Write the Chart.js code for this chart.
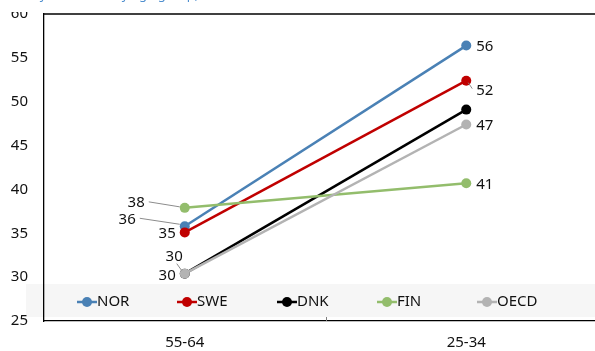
<!DOCTYPE html>
<html>
<head>
<meta charset="utf-8">
<script src="https://cdn.jsdelivr.net/npm/chart.js@4/dist/chart.umd.min.js"></script>
<style>
  html, body { margin: 0; padding: 0; background: #ffffff; overflow: hidden; }
  #wrap { width: 595px; height: 351px; overflow: hidden; position: relative; }
  canvas { display: block; }
</style>
</head>
<body>
<div id="wrap"><canvas id="chart" width="612" height="351"></canvas></div>
<script>
// Age groups on the category axis
const ageGroups = ['55-64', '25-34'];

// Series values per country (per cent)
const nor  = [35.8, 56.4];
const swe  = [35.1, 52.4];
const dnk  = [30.4, 49.1];
const fin  = [37.9, 40.7];
const oecd = [30.4, 47.4];

const seriesNames = ['NOR', 'SWE', 'DNK', 'FIN', 'OECD'];
const seriesValues = [nor, swe, dnk, fin, oecd];
const seriesColors = ['#4a81b5', '#c00000', '#000000', '#93bd6c', '#b3b3b3'];

// Y axis range
const yMin = 25, yMax = 60, yStep = 5;

const FONT = '"Noto Sans", "Open Sans", sans-serif';
const TEXT = '#111111';

// Where each value label sits relative to its point (null = no label)
const labelPlacement = [
  [ { dx: -49, dy: -7, align: 'right', leader: [-45, -8, -5, -2] }, { dx: 10, dy: 1, align: 'left' } ],
  [ { dx: -9,  dy: 1,  align: 'right' },                            { dx: 10, dy: 10, align: 'left', leader: [2, 2, 6, 8] } ],
  [ { dx: -9,  dy: 2,  align: 'right' },                            null ],
  [ { dx: -40, dy: -5, align: 'right', leader: [-36, -6, -5, -1] }, { dx: 10, dy: 1, align: 'left' } ],
  [ { dx: -2,  dy: -17, align: 'right', leader: [-8, -10, -3, -3] }, { dx: 10, dy: 1, align: 'left' } ]
];

const decorations = {
  id: 'decorations',
  beforeDraw(chart) {
    const ctx = chart.ctx;
    // shaded legend band
    ctx.save();
    ctx.fillStyle = '#f6f6f6';
    ctx.fillRect(26, 284, chart.width - 26, 33);
    ctx.restore();
  },
  afterDraw(chart) {
    const ctx = chart.ctx;
    const area = chart.chartArea;
    const xs = chart.scales.x;

    // heading strip (white box, text running off the top edge)
    ctx.save();
    ctx.fillStyle = '#ffffff';
    ctx.fillRect(0, 0, chart.width, 12);
    ctx.fillStyle = '#4f8fcf';
    ctx.font = '13px ' + FONT;
    ctx.textAlign = 'left';
    ctx.textBaseline = 'alphabetic';
    ctx.fillText('Tertiary education by age group, %', 0, -1);
    ctx.restore();

    // top frame line
    ctx.save();
    ctx.strokeStyle = '#000000';
    ctx.lineWidth = 1.3;
    ctx.beginPath();
    ctx.moveTo(area.left, area.top);
    ctx.lineTo(chart.width, area.top);
    ctx.stroke();

    // inner tick between the two categories
    const mid = (xs.getPixelForTick(0) + xs.getPixelForTick(1)) / 2;
    ctx.strokeStyle = '#7f7f7f';
    ctx.lineWidth = 1;
    ctx.beginPath();
    ctx.moveTo(Math.round(mid) + 0.5, area.bottom);
    ctx.lineTo(Math.round(mid) + 0.5, area.bottom - 4);
    ctx.stroke();
    ctx.restore();

    // value labels with leader lines
    ctx.save();
    ctx.font = '15px ' + FONT;
    ctx.fillStyle = TEXT;
    ctx.textBaseline = 'middle';
    chart.data.datasets.forEach((ds, di) => {
      const meta = chart.getDatasetMeta(di);
      meta.data.forEach((pt, pi) => {
        const p = labelPlacement[di][pi];
        if (!p) return;
        if (p.leader) {
          ctx.strokeStyle = '#8c8c8c';
          ctx.lineWidth = 1;
          ctx.beginPath();
          ctx.moveTo(pt.x + p.leader[0], pt.y + p.leader[1]);
          ctx.lineTo(pt.x + p.leader[2], pt.y + p.leader[3]);
          ctx.stroke();
        }
        ctx.textAlign = p.align;
        ctx.fillText(String(Math.round(ds.data[pi])), pt.x + p.dx, pt.y + p.dy);
      });
    });
    ctx.restore();

    // legend
    ctx.save();
    ctx.font = '15px ' + FONT;
    ctx.textBaseline = 'middle';
    ctx.textAlign = 'left';
    const ly = 302;
    chart.data.datasets.forEach((ds, i) => {
      const x0 = 77 + i * 100;
      ctx.strokeStyle = ds.borderColor;
      ctx.lineWidth = 2.5;
      ctx.beginPath();
      ctx.moveTo(x0, ly);
      ctx.lineTo(x0 + 20, ly);
      ctx.stroke();
      ctx.fillStyle = ds.borderColor;
      ctx.beginPath();
      ctx.arc(x0 + 10, ly, 5, 0, Math.PI * 2);
      ctx.fill();
      ctx.fillStyle = TEXT;
      ctx.fillText(ds.label, x0 + 20, ly);
    });
    ctx.restore();
  }
};

new Chart(document.getElementById('chart'), {
  type: 'line',
  data: {
    labels: ageGroups,
    datasets: seriesNames.map((name, i) => ({
      label: name,
      data: seriesValues[i],
      borderColor: seriesColors[i],
      backgroundColor: seriesColors[i],
      pointBackgroundColor: seriesColors[i],
      pointBorderColor: seriesColors[i],
      pointRadius: 5,
      pointBorderWidth: 0,
      borderWidth: 2.5,
      order: seriesNames.length - i,
      tension: 0
    }))
  },
  options: {
    responsive: false,
    animation: false,
    devicePixelRatio: 1,
    layout: { padding: { top: 14, right: 5, left: 0, bottom: 0 } },
    plugins: {
      legend: { display: false },
      tooltip: { enabled: false }
    },
    scales: {
      x: {
        offset: true,
        grid: { display: false, drawTicks: false },
        border: { display: true, color: '#000000', width: 1.3 },
        ticks: { color: TEXT, font: { family: FONT, size: 15 }, padding: 13, maxRotation: 0 },
        afterFit(scale) { scale.height = 30; scale.paddingLeft = 0; scale.paddingRight = 0; }
      },
      y: {
        min: yMin,
        max: yMax,
        grid: { display: false, drawTicks: false },
        border: { display: true, color: '#000000', width: 1.3 },
        ticks: { stepSize: yStep, color: TEXT, font: { family: FONT, size: 15 }, padding: 16 },
        afterFit(scale) { scale.width = 44; scale.paddingTop = 0; scale.paddingBottom = 0; }
      }
    }
  },
  plugins: [decorations]
});
</script>
</body>
</html>
